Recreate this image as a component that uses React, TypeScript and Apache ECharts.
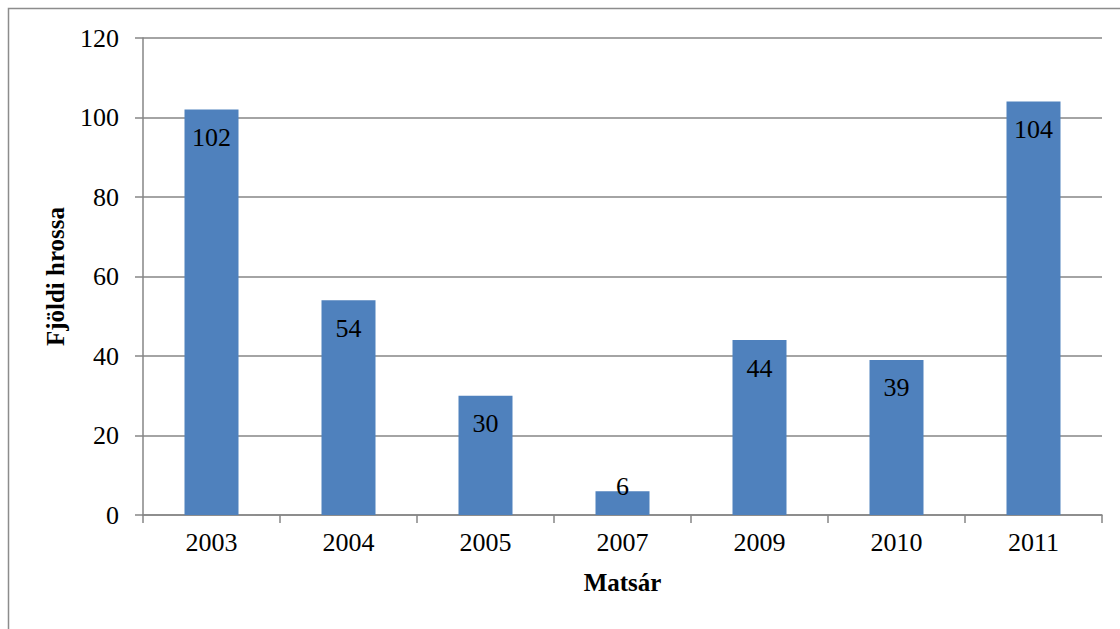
import React, { useEffect, useRef } from "react";
import * as echarts from "echarts";

const categories = ["2003", "2004", "2005", "2007", "2009", "2010", "2011"];
const values = [102, 54, 30, 6, 44, 39, 104];
const yTicks = { min: 0, max: 120, interval: 20 };
const xTitle = "Matsár";
const yTitle = "Fjöldi hrossa";

const FONT = "Liberation Serif";

export default function App() {
  const ref = useRef<HTMLDivElement>(null);
  useEffect(() => {
    if (!ref.current) return;
    const chart = echarts.init(ref.current, undefined, { renderer: "svg" });
    chart.setOption({
      animation: false,
      backgroundColor: "#ffffff",
      textStyle: { fontFamily: FONT },
      graphic: [
        {
          type: "rect",
          shape: { x: 8.5, y: 8.5, width: 1200, height: 700 },
          style: { fill: "none", stroke: "#8c8c8c", lineWidth: 1.5 },
          silent: true,
        },
      ],
      grid: { left: 143, right: 18, top: 38, bottom: 114 },
      xAxis: {
        type: "category",
        data: categories,
        name: xTitle,
        nameLocation: "middle",
        nameGap: 55,
        nameTextStyle: { fontFamily: FONT, fontSize: 25, fontWeight: "bold", color: "#000" },
        axisLine: { lineStyle: { color: "#868686", width: 1.5 } },
        axisTick: { show: true, length: 8, alignWithLabel: false, lineStyle: { color: "#868686", width: 1.5 } },
        axisLabel: { fontFamily: FONT, fontSize: 26, fontWeight: "normal", color: "#000", margin: 14 },
      },
      yAxis: {
        type: "value",
        min: yTicks.min,
        max: yTicks.max,
        interval: yTicks.interval,
        name: yTitle,
        nameLocation: "middle",
        nameGap: 75,
        nameRotate: 90,
        nameTextStyle: { fontFamily: FONT, fontSize: 25, fontWeight: "bold", color: "#000" },
        axisLine: { show: true, lineStyle: { color: "#868686", width: 1.5 } },
        axisTick: { show: true, length: 8, lineStyle: { color: "#868686", width: 1.5 } },
        splitLine: { show: true, lineStyle: { color: "#868686", width: 1.5 } },
        axisLabel: { fontFamily: FONT, fontSize: 26, fontWeight: "normal", color: "#000", margin: 24 },
      },
      series: [
        {
          type: "bar",
          data: values.map((v) =>
            v < 10
              ? { value: v, label: { position: "insideTop", offset: [0, -33] } }
              : v
          ),
          barWidth: 54,
          itemStyle: { color: "#4F81BD" },
          label: {
            show: true,
            position: "insideTop",
            distance: 15,
            fontFamily: FONT,
            fontSize: 26,
            fontWeight: "normal",
            color: "#000",
          },
        },
      ],
    });
    return () => chart.dispose();
  }, []);
  return (
    <div
      ref={ref}
      style={{ position: "fixed", left: 0, top: 0, width: 1120, height: 629 }}
    />
  );
}
